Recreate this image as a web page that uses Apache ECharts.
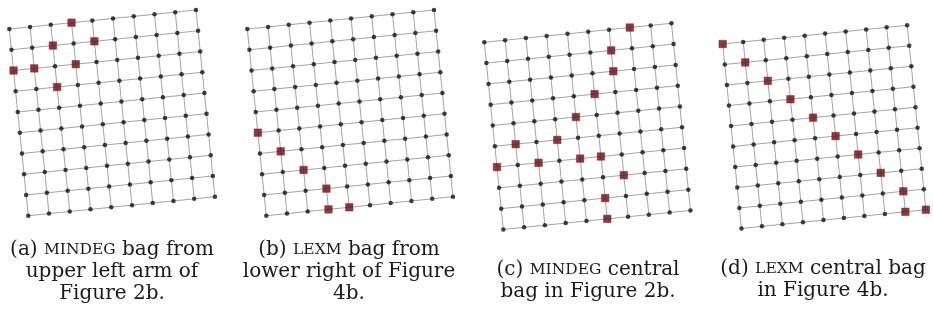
<!DOCTYPE html>
<html>
<head>
<meta charset="utf-8">
<title>Elimination bags on a 10x10 grid</title>
<script src="https://cdn.jsdelivr.net/npm/echarts@6/dist/echarts.min.js"></script>
<style>
  html, body { margin: 0; padding: 0; background: #fff; }
  #chart { width: 933px; height: 322px; }
</style>
</head>
<body>
<div id="chart"></div>
<script>
// Lattice size (nodes per side)
const latticeSize = 10;

// Bag members as [column, row] lattice indices, row 0 at the top
const bagA = [[3, 0], [2, 1], [4, 1], [0, 2], [1, 2], [3, 2], [2, 3]];
const bagB = [[0, 5], [1, 6], [2, 7], [3, 8], [3, 9], [4, 9]];
const bagC = [[7, 0], [6, 1], [6, 2], [5, 3], [4, 4], [1, 5], [3, 5], [0, 6], [2, 6],
              [4, 6], [5, 6], [6, 7], [5, 8], [5, 9]];
const bagD = [[0, 0], [1, 1], [2, 2], [3, 3], [4, 4], [5, 5], [6, 6], [7, 7], [8, 8],
              [8, 9], [9, 9]];

// Sub-figure captions ({sc|...} is set in small capitals)
const captionA = '(a) {sc|MINDEG} bag from\nupper left arm of\nFigure 2b.';
const captionB = '(b) {sc|LEXM} bag from\nlower right of Figure\n4b.';
const captionC = '(c) {sc|MINDEG} central\nbag in Figure 2b.';
const captionD = '(d) {sc|LEXM} central bag\nin Figure 4b.';

const bags = [bagA, bagB, bagC, bagD];
const captions = [captionA, captionB, captionC, captionD];

// Panel placement: pixel position of the top-left node, node spacing, caption anchor
const panels = [
  { x0: 9.3,   y0: 29,   s: 20.85, cx: 112, cy: 239 },
  { x0: 247.3, y0: 29,   s: 20.85, cx: 349, cy: 239 },
  { x0: 484.3, y0: 42.3, s: 20.9,  cx: 588, cy: 259 },
  { x0: 722.7, y0: 44,   s: 20.6,  cx: 823, cy: 258 }
];

// The drawing is turned slightly counter-clockwise
const tilt = 5.8 * Math.PI / 180;
const cosT = Math.cos(tilt), sinT = Math.sin(tilt);

// Lattice index (col, row) -> rotated data coordinate (y up)
function place(col, row) {
  return [col * cosT + row * sinT, col * sinT - row * cosT];
}

const xMin = -0.3, xMax = 10.1, yMin = -9.2, yMax = 1.1;

const grids = [], xAxes = [], yAxes = [], series = [], graphics = [];

panels.forEach(function (p, k) {
  grids.push({
    left: p.x0 + xMin * p.s,
    top: p.y0 - yMax * p.s,
    width: (xMax - xMin) * p.s,
    height: (yMax - yMin) * p.s,
    containLabel: false
  });
  xAxes.push({ type: 'value', gridIndex: k, min: xMin, max: xMax, show: false });
  yAxes.push({ type: 'value', gridIndex: k, min: yMin, max: yMax, show: false });

  // Edges: every row and every column as a polyline
  const edges = [];
  for (let r = 0; r < latticeSize; r++) {
    const pts = [];
    for (let c = 0; c < latticeSize; c++) pts.push(place(c, r));
    edges.push({ coords: pts });
  }
  for (let c = 0; c < latticeSize; c++) {
    const pts = [];
    for (let r = 0; r < latticeSize; r++) pts.push(place(c, r));
    edges.push({ coords: pts });
  }
  series.push({
    type: 'lines',
    coordinateSystem: 'cartesian2d',
    xAxisIndex: k, yAxisIndex: k,
    polyline: true,
    silent: true,
    lineStyle: { color: '#a4a2ad', width: 1, opacity: 1 },
    data: edges,
    z: 1
  });

  // Ordinary nodes
  const inBag = {};
  bags[k].forEach(function (b) { inBag[b[0] + ',' + b[1]] = true; });
  const nodes = [];
  for (let r = 0; r < latticeSize; r++) {
    for (let c = 0; c < latticeSize; c++) {
      if (!inBag[c + ',' + r]) nodes.push(place(c, r));
    }
  }
  series.push({
    type: 'scatter',
    xAxisIndex: k, yAxisIndex: k,
    symbol: 'circle',
    symbolSize: 4.5,
    silent: true,
    itemStyle: { color: '#111111' },
    data: nodes,
    z: 2
  });

  // Bag members
  series.push({
    type: 'scatter',
    xAxisIndex: k, yAxisIndex: k,
    symbol: 'rect',
    symbolSize: 7.5,
    silent: true,
    itemStyle: { color: '#660c0c', borderColor: '#8c1e1e', borderWidth: 0.6 },
    data: bags[k].map(function (b) { return place(b[0], b[1]); }),
    z: 3
  });

  graphics.push({
    type: 'text',
    x: p.cx,
    y: p.cy,
    style: {
      text: captions[k],
      align: 'center',
      verticalAlign: 'top',
      fontFamily: 'DejaVu Serif',
      fontSize: 20,
      lineHeight: 22,
      fill: '#1a1a1a',
      rich: {
        sc: { fontFamily: 'DejaVu Serif', fontSize: 15.5, fill: '#1a1a1a', lineHeight: 22 }
      }
    }
  });
});

const chart = echarts.init(document.getElementById('chart'), null, { renderer: 'canvas' });
chart.setOption({
  animation: false,
  backgroundColor: '#ffffff',
  grid: grids,
  xAxis: xAxes,
  yAxis: yAxes,
  series: series,
  graphic: graphics
});
</script>
</body>
</html>
